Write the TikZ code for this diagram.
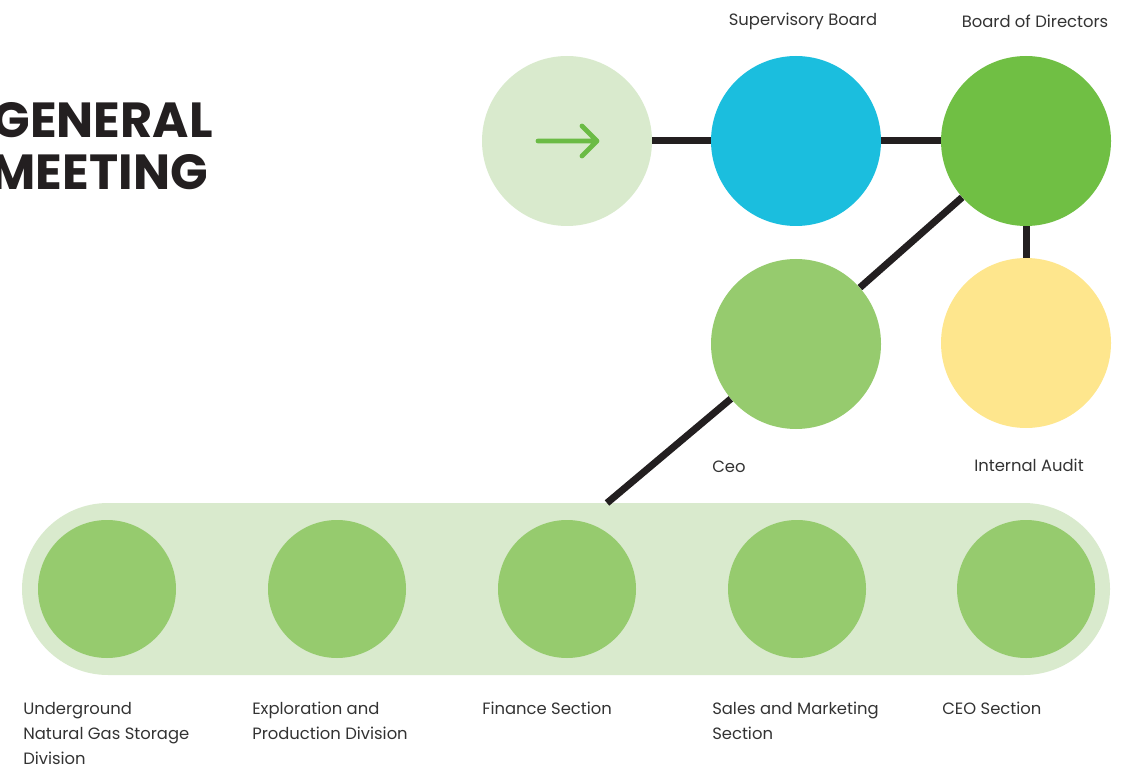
\documentclass[tikz,border=0pt]{standalone}
\usepackage{fontspec}
\setmainfont{Poppins}
\definecolor{lightg}{HTML}{D9EACD}
\definecolor{blueb}{HTML}{1BBEDE}
\definecolor{greenb}{HTML}{70BF44}
\definecolor{midg}{HTML}{96CB6E}
\definecolor{yellowb}{HTML}{FEE68D}
\definecolor{arrowg}{HTML}{6BBB45}
\definecolor{ink}{HTML}{231F20}
\definecolor{txt}{HTML}{333333}
\begin{document}
\begin{tikzpicture}[x=0.75pt,y=-0.75pt,
  bigc/.style={circle,minimum size=127.5pt,inner sep=0pt},
  smallc/.style={circle,fill=midg,minimum size=103.5pt,inner sep=0pt},
  link/.style={draw=ink,line width=5.25pt},
  lbl/.style={text=txt,font=\fontsize{12.3}{18.75}\selectfont,inner sep=0pt},
  sublbl/.style={lbl,anchor=north west,align=left},
  ttl/.style={text=ink,font=\fontsize{37}{37}\selectfont\bfseries,inner sep=0pt,anchor=base east}]
\useasboundingbox (0,0) rectangle (1130,773);
% title
\node[ttl] (t1) at (213,138) {GENERAL};
\node[ttl] (t2) at (208,190) {MEETING};
% top row
\node[bigc,fill=lightg] (gm) at (567,141) {};
\node[bigc,fill=blueb] (sb) at (796,141) {};
\node[bigc,fill=greenb] (bod) at (1026,141) {};
\node[bigc,fill=midg] (ceo) at (796,344) {};
\node[bigc,fill=yellowb] (ia) at (1026,343) {};
% arrow
\coordinate (a1) at (538,141);
\coordinate (a2) at (597,141);
\coordinate (a3) at (582,126);
\coordinate (a4) at (582,156);
\draw[arrowg,line width=3.6pt,line cap=round,line join=round] (a1) -- (a2) (a3) -- (a2) -- (a4);
% bar
\node[fill=lightg,rounded corners=64.5pt,minimum width=816pt,minimum height=129pt,inner sep=0pt] (bar) at (566,589) {};
\coordinate (bartop) at (607,503);
% links
\draw[link] (gm) -- (sb);
\draw[link] (sb) -- (bod);
\draw[link] (bod) -- (ia);
\draw[link] (bod) -- (ceo);
\draw[link] (ceo) -- (bartop);
% small circles
\node[smallc] (d1) at (107,589) {};
\node[smallc] (d2) at (337,589) {};
\node[smallc] (d3) at (567,589) {};
\node[smallc] (d4) at (797,589) {};
\node[smallc] (d5) at (1026,589) {};
% labels
\node[lbl] (lsb) at (803,21) {Supervisory Board};
\node[lbl] (lbod) at (1035,21) {Board of Directors};
\node[lbl,anchor=west] (lceo) at (712,467) {Ceo};
\node[lbl] (lia) at (1029,465) {Internal Audit};
\node[sublbl] (l1) at (23,702) {Underground\\Natural Gas Storage\\Division};
\node[sublbl] (l2) at (252,702) {Exploration and\\Production Division};
\node[sublbl] (l3) at (482,702) {Finance Section};
\node[sublbl] (l4) at (712,702) {Sales and Marketing\\Section};
\node[sublbl] (l5) at (942,702) {CEO Section};
\end{tikzpicture}
\end{document}
